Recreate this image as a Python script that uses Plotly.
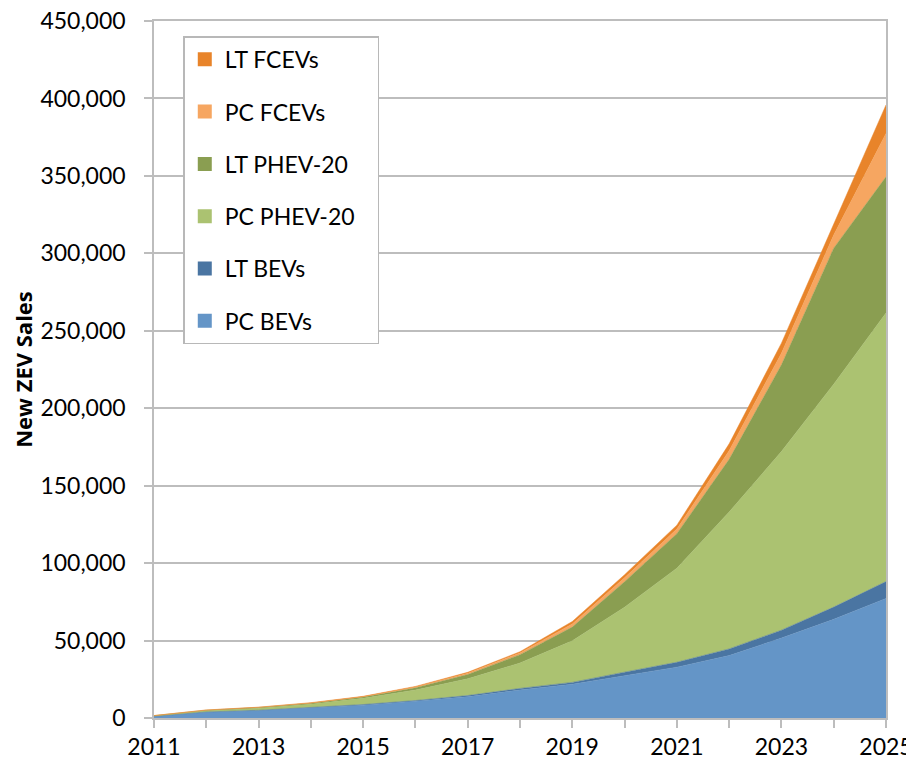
import plotly.graph_objects as go

# model years
years = list(range(2011, 2026))

# new ZEV sales by vehicle type
pc_bevs = [1000, 3700, 4800, 6400, 8300, 10800, 13800, 18000, 21800, 27300, 32800, 40300, 51600, 63700, 77200]
lt_bevs = [100, 200, 200, 300, 400, 500, 700, 1100, 1200, 2300, 3200, 4300, 5100, 7900, 10900]
pc_phev20 = [300, 800, 1300, 2100, 4000, 6700, 10800, 16400, 26800, 41900, 60700, 88400, 115300, 143900, 173400]
lt_phev20 = [100, 300, 500, 700, 800, 1600, 2800, 5400, 8900, 16500, 22300, 34000, 56000, 87800, 87900]
pc_fcevs = [50, 100, 100, 200, 300, 400, 800, 1100, 2000, 2500, 3000, 5500, 7500, 8500, 27900]
lt_fcevs = [50, 100, 100, 200, 200, 400, 600, 800, 1600, 2000, 2500, 4500, 6500, 7000, 18500]

series = [
    ("PC BEVs", pc_bevs, "#6495C7"),
    ("LT BEVs", lt_bevs, "#4A75A2"),
    ("PC PHEV-20", pc_phev20, "#ABC271"),
    ("LT PHEV-20", lt_phev20, "#8A9E51"),
    ("PC FCEVs", pc_fcevs, "#F6A661"),
    ("LT FCEVs", lt_fcevs, "#E8842A"),
]

FONT = "Lato, 'Open Sans', sans-serif"
PAD = "\u00a0" * 3  # widen the legend box a little

fig = go.Figure()

# stacked areas (bottom -> top)
for name, vals, color in series:
    fig.add_trace(go.Scatter(
        x=years, y=vals, name=name,
        stackgroup="zev", mode="lines",
        line=dict(width=0.5, color=color),
        fillcolor=color,
        showlegend=False,
    ))

# square legend swatches, top entry first
for i, (name, vals, color) in enumerate(reversed(series)):
    fig.add_trace(go.Scatter(
        x=[None], y=[None], name=name + PAD, mode="markers",
        marker=dict(symbol="square", size=14, color=color),
        legendgroup=f"g{i}",
    ))

grid = "#BDBDBD"

# page body has an 8px margin, so the figure is sized 8px smaller
fig.update_layout(
    width=906, height=759,
    margin=dict(l=146, r=28, t=13, b=49),
    paper_bgcolor="white", plot_bgcolor="white",
    font=dict(family=FONT, size=23, color="black"),
    legend=dict(
        x=0.04, y=0.978, xanchor="left", yanchor="top",
        bordercolor="#B8B8B8", borderwidth=1.5, bgcolor="white",
        font=dict(family=FONT, size=23),
        tracegroupgap=19.4, itemwidth=30,
        traceorder="grouped",
    ),
    showlegend=True,
)

fig.update_xaxes(
    range=[2011, 2025], tickmode="linear", tick0=2011, dtick=2,
    automargin=False, ticklabeloverflow="allow",
    showgrid=False, zeroline=False,
    showline=True, linecolor=grid, linewidth=1.5, mirror=True,
    ticks="outside", ticklen=8, tickcolor=grid, tickwidth=1.5,
    minor=dict(dtick=1, tick0=2011, ticks="outside", ticklen=8, tickcolor=grid, tickwidth=1.5),
    tickfont=dict(family=FONT, size=23),
)

fig.update_yaxes(
    range=[0, 450000], tickmode="linear", tick0=0, dtick=50000, tickformat=",d",
    automargin=False, ticklabeloverflow="allow",
    showgrid=True, gridcolor=grid, gridwidth=1.5, zeroline=False,
    showline=True, linecolor=grid, linewidth=1.5, mirror=True,
    ticks="outside", ticklen=8, tickcolor=grid, tickwidth=1.5,
    ticklabelstandoff=14,
    tickfont=dict(family=FONT, size=23),
    title=dict(text="<b>New ZEV Sales</b>", font=dict(family="'Open Sans', sans-serif", size=22), standoff=13),
)

fig.write_html("out.html")
